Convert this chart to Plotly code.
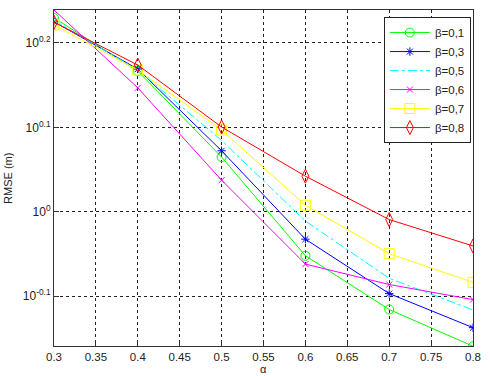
import plotly.graph_objects as go

alpha = [0.3, 0.4, 0.5, 0.6, 0.7, 0.8]
names = ["β=0,1", "β=0,3", "β=0,5", "β=0,6", "β=0,7", "β=0,8"]
rmse_b01 = [1.697, 1.468, 1.161, 0.887, 0.766, 0.693]
rmse_b03 = [1.679, 1.476, 1.181, 0.928, 0.800, 0.729]
rmse_b05 = [1.685, 1.472, 1.215, 0.975, 0.834, 0.765]
rmse_b06 = [1.734, 1.402, 1.090, 0.867, 0.820, 0.787]
rmse_b07 = [1.665, 1.472, 1.250, 1.018, 0.892, 0.825]
rmse_b08 = [1.677, 1.492, 1.260, 1.102, 0.979, 0.911]
series = [rmse_b01, rmse_b03, rmse_b05, rmse_b06, rmse_b07, rmse_b08]

xticks = [0.3, 0.35, 0.4, 0.45, 0.5, 0.55, 0.6, 0.65, 0.7, 0.75, 0.8]
xticktext = ["0.3", "0.35", "0.4", "0.45", "0.5", "0.55", "0.6", "0.65", "0.7", "0.75", "0.8"]
yexp = [-0.1, 0.0, 0.1, 0.2]
yticktext = ["10<sup>-0.1</sup>", "10<sup>0</sup>", "10<sup>0.1</sup>", "10<sup>0.2</sup>"]

colors = ["#00ff00", "#0000ff", "#00ffff", "#ff00ff", "#ffff00", "#ff0000"]
symbols = ["circle-open", "asterisk-open", None, "x-thin-open", "square-open", "diamond-tall-open"]
sizes = [9, 7, 0, 6, 10, 10]
dashes = ["solid", "solid", "dashdot", "solid", "solid", "solid"]

fig = go.Figure()
for name, y, c, s, sz, d in zip(names, series, colors, symbols, sizes, dashes):
    if s is None:
        fig.add_trace(go.Scatter(x=alpha, y=y, name=name, mode="lines",
                                 line=dict(color=c, width=1, dash=d)))
    else:
        fig.add_trace(go.Scatter(x=alpha, y=y, name=name, mode="lines+markers",
                                 line=dict(color=c, width=1, dash=d),
                                 marker=dict(symbol=s, size=sz, color=c,
                                             line=dict(color=c, width=1))))

font = "Liberation Sans, Arial, sans-serif"
plot_h = 376 - 10 - 30
plot_w = 490 - 54 - 9
fig.update_layout(
    width=490, height=376,
    margin=dict(l=54, r=9, t=10, b=30),
    paper_bgcolor="white", plot_bgcolor="white",
    font=dict(family=font, size=12, color="#222"),
    showlegend=True,
    legend=dict(x=0.995, y=0.979, xanchor="right", yanchor="top",
                bgcolor="white", bordercolor="#222", borderwidth=1,
                font=dict(size=11.5), tracegroupgap=0, itemwidth=40),
    xaxis=dict(range=[0.3, 0.8], tickvals=xticks, ticktext=xticktext,
               showgrid=True, gridcolor="#222", griddash="dot", gridwidth=1,
               showline=True, linecolor="#333", linewidth=1, mirror=True,
               ticks="inside", ticklen=5, tickcolor="#333",
               zeroline=False, tickfont=dict(size=11.5)),
    yaxis=dict(type="log", range=[-0.159, 0.239],
               tickvals=[10 ** e for e in yexp], ticktext=yticktext,
               showgrid=True, gridcolor="#222", griddash="dot", gridwidth=1,
               showline=True, linecolor="#333", linewidth=1, mirror=True,
               ticks="inside", ticklen=5, tickcolor="#333",
               zeroline=False, tickfont=dict(size=12)),
    annotations=[
        dict(text="α", x=0.5, xref="paper", y=-(376 - 346) / plot_h, yref="paper",
             yanchor="bottom", showarrow=False, borderpad=0, font=dict(size=11)),
        dict(text="RMSE (m)", textangle=-90, x=-(54 - 7) / plot_w, xref="paper",
             xanchor="center", y=0.5, yref="paper",
             showarrow=False, font=dict(size=11)),
    ],
)

fig.write_html("out.html")
